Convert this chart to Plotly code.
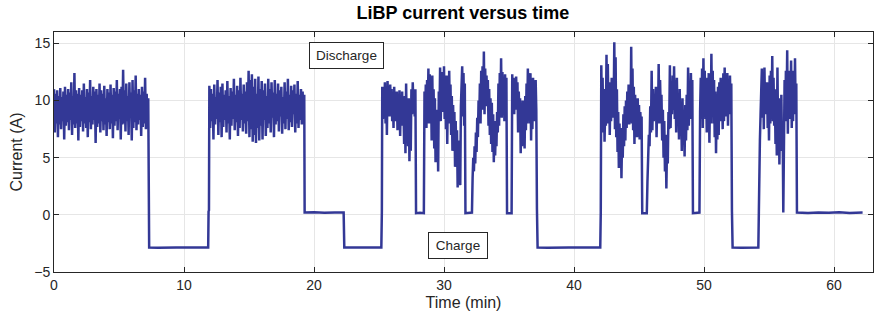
import numpy as np
import plotly.graph_objects as go

# ---------------- data ----------------
# discharge segments: time span (min) and sampled current (A)
d1_span = (0.0, 7.25)
d1 = [11.0, 7.2, 10.6, 8.0, 10.9, 6.8, 10.4, 7.9, 11.1, 7.5, 10.3, 8.2, 10.8, 6.6, 11.2, 7.8,
      10.5, 8.1, 11.0, 7.4, 10.7, 8.3, 11.6, 7.0, 10.4, 7.9, 12.4, 7.6, 10.9, 8.0, 10.6, 6.5,
      11.1, 7.7, 10.5, 8.2, 10.9, 7.3, 11.5, 8.0, 10.3, 7.6, 11.0, 6.8, 10.7, 8.1, 11.8, 7.5,
      10.4, 7.9, 11.2, 8.3, 10.8, 6.3, 11.0, 7.7, 10.5, 8.0, 11.5, 7.2, 10.9, 8.2, 10.6, 7.4,
      11.3, 7.9, 10.2, 6.9, 11.0, 8.1, 10.7, 7.5, 11.4, 8.0, 10.5, 6.7, 11.1, 7.8, 10.8, 8.2,
      11.8, 7.4, 10.6, 8.4, 11.0, 6.6, 11.2, 7.9, 12.7, 8.0, 10.9, 7.3, 11.5, 8.2, 10.4, 7.0,
      11.6, 8.5, 10.7, 6.5, 11.8, 7.6, 10.9, 8.1, 12.2, 7.4, 10.6, 7.9, 11.0, 8.3, 10.5, 6.9,
      11.2, 7.7, 10.8, 8.0, 12.0, 7.5, 10.6, 8.2, 10.2]
d2_span = (11.95, 19.25)
d2 = [11.3, 7.6, 11.0, 8.2, 10.6, 6.6, 11.4, 7.9, 10.3, 8.4, 11.8, 7.0, 10.7, 8.1, 11.2, 6.8,
      11.5, 7.7, 10.5, 8.3, 10.9, 7.2, 11.7, 8.0, 10.4, 6.6, 11.1, 7.8, 10.8, 8.4, 11.9, 7.4,
      10.5, 8.1, 11.3, 6.9, 10.9, 7.6, 12.0, 8.3, 10.6, 7.3, 11.4, 8.0, 10.8, 7.1, 11.6, 8.2,
      12.6, 6.8, 11.8, 7.5, 12.3, 6.4, 11.2, 7.0, 11.9, 6.3, 10.6, 7.6, 12.1, 6.5, 11.0, 7.8,
      11.7, 6.6, 10.9, 8.3, 11.5, 6.9, 10.4, 7.6, 11.9, 8.0, 11.0, 7.2, 11.6, 8.5, 10.7, 6.8,
      11.8, 7.9, 10.6, 8.2, 11.5, 7.3, 10.9, 8.6, 11.2, 7.1, 10.3, 8.0, 11.6, 7.5, 10.8, 8.4,
      11.9, 7.4, 10.5, 8.1, 11.3, 7.7, 10.9, 8.8, 11.4, 7.2, 10.6, 8.0, 11.7, 7.6, 10.5, 8.3,
      11.0, 7.9, 10.8, 8.5, 10.5]
d3_span = (25.25, 27.8)
d3 = [11.2, 8.4, 10.6, 9.2, 11.6, 8.0, 11.0, 7.0, 11.7, 9.0, 10.8, 8.6, 11.4, 9.3, 11.0, 8.2,
      10.6, 7.6, 11.2, 8.9, 10.5, 8.2, 10.8, 7.4, 10.4, 8.5, 10.9, 6.9, 10.2, 8.0, 10.8, 7.8,
      9.6, 6.2, 10.4, 5.4, 11.5, 7.2, 9.8, 6.0, 10.2, 4.7, 9.0, 5.6, 11.0, 8.8, 11.6, 9.5,
      10.8, 8.6, 11.0]
d4_span = (28.5, 31.6)
d4 = [10.8, 8.6, 11.4, 7.6, 11.8, 9.0, 12.8, 8.0, 12.3, 9.4, 11.6, 6.5, 12.2, 7.8, 11.0, 5.8,
      10.2, 4.6, 9.2, 5.5, 8.6, 3.8, 10.8, 8.5, 12.9, 8.2, 12.5, 9.6, 12.0, 9.0, 13.0, 8.4,
      11.8, 7.5, 12.2, 6.2, 11.0, 8.0, 12.6, 8.6, 11.4, 7.0, 10.4, 5.6, 9.6, 6.4, 9.0, 4.2,
      8.2, 5.0, 7.4, 2.4, 6.5, 3.0, 5.8, 2.6, 9.5, 12.0, 13.0, 8.6, 12.4, 7.8, 11.5]
d5_span = (32.2, 34.8)
d5 = [3.2, 5.0, 3.8, 6.0, 4.5, 7.2, 5.5, 8.5, 6.8, 10.0, 8.2, 11.5, 8.0, 12.6, 9.6, 13.0,
      9.2, 14.3, 8.8, 12.8, 9.8, 12.2, 9.5, 11.8, 7.8, 11.0, 7.0, 10.2, 6.2, 9.8, 5.5, 8.8,
      4.6, 8.2, 5.2, 7.5, 6.0, 9.0, 7.2, 11.5, 7.8, 12.4, 9.0, 13.7, 8.5, 12.5, 9.4, 12.0,
      8.2, 12.3, 9.0, 12.0]
d6_span = (35.25, 37.1)
d6 = [12.3, 9.0, 12.0, 8.8, 11.8, 9.5, 12.1, 9.2, 11.6, 7.2, 10.8, 8.5, 10.2, 5.4, 9.6, 6.0,
      10.0, 6.8, 9.6, 5.8, 10.4, 7.4, 11.5, 8.0, 12.8, 8.6, 12.2, 8.0, 12.4, 6.5, 11.9, 7.5,
      12.0, 9.0, 11.5, 8.2, 11.8, 9.2]
d7_span = (42.1, 45.2)
d7 = [13.1, 8.0, 12.0, 7.2, 11.0, 6.4, 9.5, 7.8, 14.0, 8.0, 13.2, 9.0, 11.6, 7.0, 10.5, 8.2,
      12.0, 8.5, 11.0, 9.2, 15.1, 7.5, 13.8, 6.8, 11.0, 5.5, 9.0, 4.1, 8.0, 4.8, 7.6, 3.2,
      7.0, 5.0, 8.8, 6.0, 9.5, 6.5, 10.0, 7.6, 10.8, 8.2, 11.4, 7.9, 10.6, 8.4, 14.7, 8.0,
      12.8, 7.4, 11.2, 6.2, 10.5, 7.4, 9.8, 6.8, 10.2, 7.8, 9.6, 6.6, 9.0, 7.8, 8.6]
d8_span = (45.65, 49.1)
d8 = [2.9, 5.0, 7.0, 6.0, 9.5, 7.2, 12.6, 7.4, 11.0, 8.2, 10.2, 8.6, 11.2, 6.8, 10.0, 8.0,
      13.2, 8.0, 11.8, 9.0, 10.5, 6.5, 9.2, 5.0, 8.2, 3.8, 7.0, 2.3, 6.5, 4.5, 9.0, 7.5,
      13.1, 7.6, 11.5, 8.8, 12.2, 9.2, 13.0, 8.4, 11.8, 7.2, 12.0, 8.0, 10.6, 6.6, 11.0, 7.8,
      9.8, 5.6, 10.2, 7.0, 8.8, 5.1, 9.6, 6.5, 10.5, 7.4, 12.9, 7.8, 11.6, 8.4, 12.4, 9.0,
      11.8]
d9_span = (49.7, 52.1)
d9 = [9.0, 12.0, 8.4, 12.8, 7.6, 13.7, 9.0, 12.6, 8.4, 11.5, 7.2, 12.0, 7.8, 12.4, 6.3, 11.0,
      8.0, 14.1, 8.6, 12.6, 8.0, 11.8, 6.8, 10.8, 5.4, 10.5, 6.6, 11.2, 7.0, 11.6, 8.2, 12.0,
      8.6, 11.4, 7.5, 12.4, 8.2, 12.9, 8.6, 12.0, 9.0, 12.4, 7.8, 11.6, 8.8, 12.2, 9.0, 11.5]
d10_span = (54.25, 57.1)
d10 = [4.7, 6.5, 8.7, 10.5, 12.8, 8.5, 12.0, 7.5, 12.9, 8.8, 11.5, 9.0, 11.6, 7.6, 10.8, 6.5,
       12.2, 8.0, 12.6, 8.4, 13.9, 8.2, 12.0, 7.8, 11.0, 6.2, 10.4, 5.2, 12.9, 7.0, 10.2, 4.4,
       9.0, 5.6, 10.5, 6.0, 8.0, 0.2, 9.0, 11.8, 8.2, 12.6, 9.0, 14.4, 7.1, 12.6, 8.4, 12.0,
       9.4, 13.5, 7.6, 12.0, 8.2, 12.6, 8.8, 13.7, 9.0, 11.5]

# charge / rest periods: times (min) and current (A)
q1_t = [7.28, 7.32, 8.0, 8.7, 9.4, 10.1, 10.8, 11.5, 11.86, 11.89, 11.92]
q1_v = [0.3, -2.85, -2.87, -2.84, -2.86, -2.85, -2.87, -2.84, -2.86, 0.3, 0.4]
q2_t = [19.28, 20.0, 20.8, 21.6, 22.28, 22.33, 23.0, 23.8, 24.6, 25.18, 25.22]
q2_v = [0.2, 0.22, 0.18, 0.21, 0.2, -2.85, -2.87, -2.84, -2.86, -2.85, 0.3]
q3_t = [27.85, 28.15, 28.45]
q3_v = [0.15, 0.18, 0.15]
q4_t = [31.65, 31.9, 32.15]
q4_v = [0.15, 0.17, 0.2]
q5_t = [34.85, 35.05, 35.2]
q5_v = [0.15, 0.18, 0.15]
q6_t = [37.15, 37.2, 38.0, 38.8, 39.6, 40.4, 41.2, 42.02, 42.06]
q6_v = [0.5, -2.85, -2.87, -2.84, -2.86, -2.85, -2.87, -2.85, 0.3]
q7_t = [45.25, 45.45, 45.6]
q7_v = [0.15, 0.18, 0.15]
q8_t = [49.15, 49.4, 49.65]
q8_v = [0.15, 0.17, 0.2]
q9_t = [52.15, 52.2, 52.9, 53.6, 54.18, 54.22]
q9_v = [0.3, -2.85, -2.87, -2.84, -2.86, 0.3]
q10_t = [57.15, 58.0, 58.8, 59.6, 60.4, 61.2, 62.2]
q10_v = [0.2, 0.17, 0.21, 0.18, 0.22, 0.17, 0.2]

blocks = [
    (d1_span, d1), (q1_t, q1_v), (d2_span, d2), (q2_t, q2_v), (d3_span, d3), (q3_t, q3_v),
    (d4_span, d4), (q4_t, q4_v), (d5_span, d5), (q5_t, q5_v), (d6_span, d6), (q6_t, q6_v),
    (d7_span, d7), (q7_t, q7_v), (d8_span, d8), (q8_t, q8_v), (d9_span, d9), (q9_t, q9_v),
    (d10_span, d10), (q10_t, q10_v),
]

t_all, i_all = [], []
for tt, vv in blocks:
    if isinstance(tt, tuple):
        tt = np.linspace(tt[0], tt[1], len(vv))
    t_all.extend(list(tt))
    i_all.extend(list(vv))

# ---------------- figure ----------------
font_family = "Liberation Sans, Arial, sans-serif"
fig = go.Figure()
fig.add_trace(go.Scatter(x=t_all, y=i_all, mode="lines",
                         line=dict(color="#333896", width=2.5), showlegend=False))

axis_common = dict(
    showline=True, linecolor="#262626", linewidth=1, mirror="ticks",
    ticks="inside", ticklen=5, tickcolor="#262626",
    showgrid=True, gridcolor="#e6e6e6", gridwidth=1, zeroline=False,
    tickfont=dict(family=font_family, size=14, color="#262626"),
)
fig.update_xaxes(range=[0, 63], tickvals=[0, 10, 20, 30, 40, 50, 60],
                 title=dict(text="Time (min)", font=dict(family=font_family, size=16, color="#262626"),
                            standoff=5),
                 **axis_common)
fig.update_yaxes(range=[-5, 16], tickvals=[-5, 0, 5, 10, 15],
                 title=dict(text="Current (A)", font=dict(family=font_family, size=16, color="#262626"),
                            standoff=7),
                 **axis_common)

fig.add_annotation(x=22.52, y=13.96, xref="x", yref="y", text="Discharge", showarrow=False,
                   font=dict(family=font_family, size=13.5, color="#262626"),
                   bgcolor="white", bordercolor="#262626", borderwidth=1, borderpad=1,
                   width=71, height=23)
fig.add_annotation(x=31.05, y=-2.68, xref="x", yref="y", text="Charge", showarrow=False,
                   font=dict(family=font_family, size=13.5, color="#262626"),
                   bgcolor="white", bordercolor="#262626", borderwidth=1, borderpad=1,
                   width=56, height=23)

fig.update_layout(
    width=874, height=320,
    margin=dict(l=54, r=1, t=32, b=48),
    paper_bgcolor="white", plot_bgcolor="white",
    title=dict(text="<b>LiBP current versus time</b>", x=0.5297, xanchor="center",
               y=1 - 13 / 320, yanchor="middle",
               font=dict(family=font_family, size=18, color="black")),
)

fig.write_html("out.html")
